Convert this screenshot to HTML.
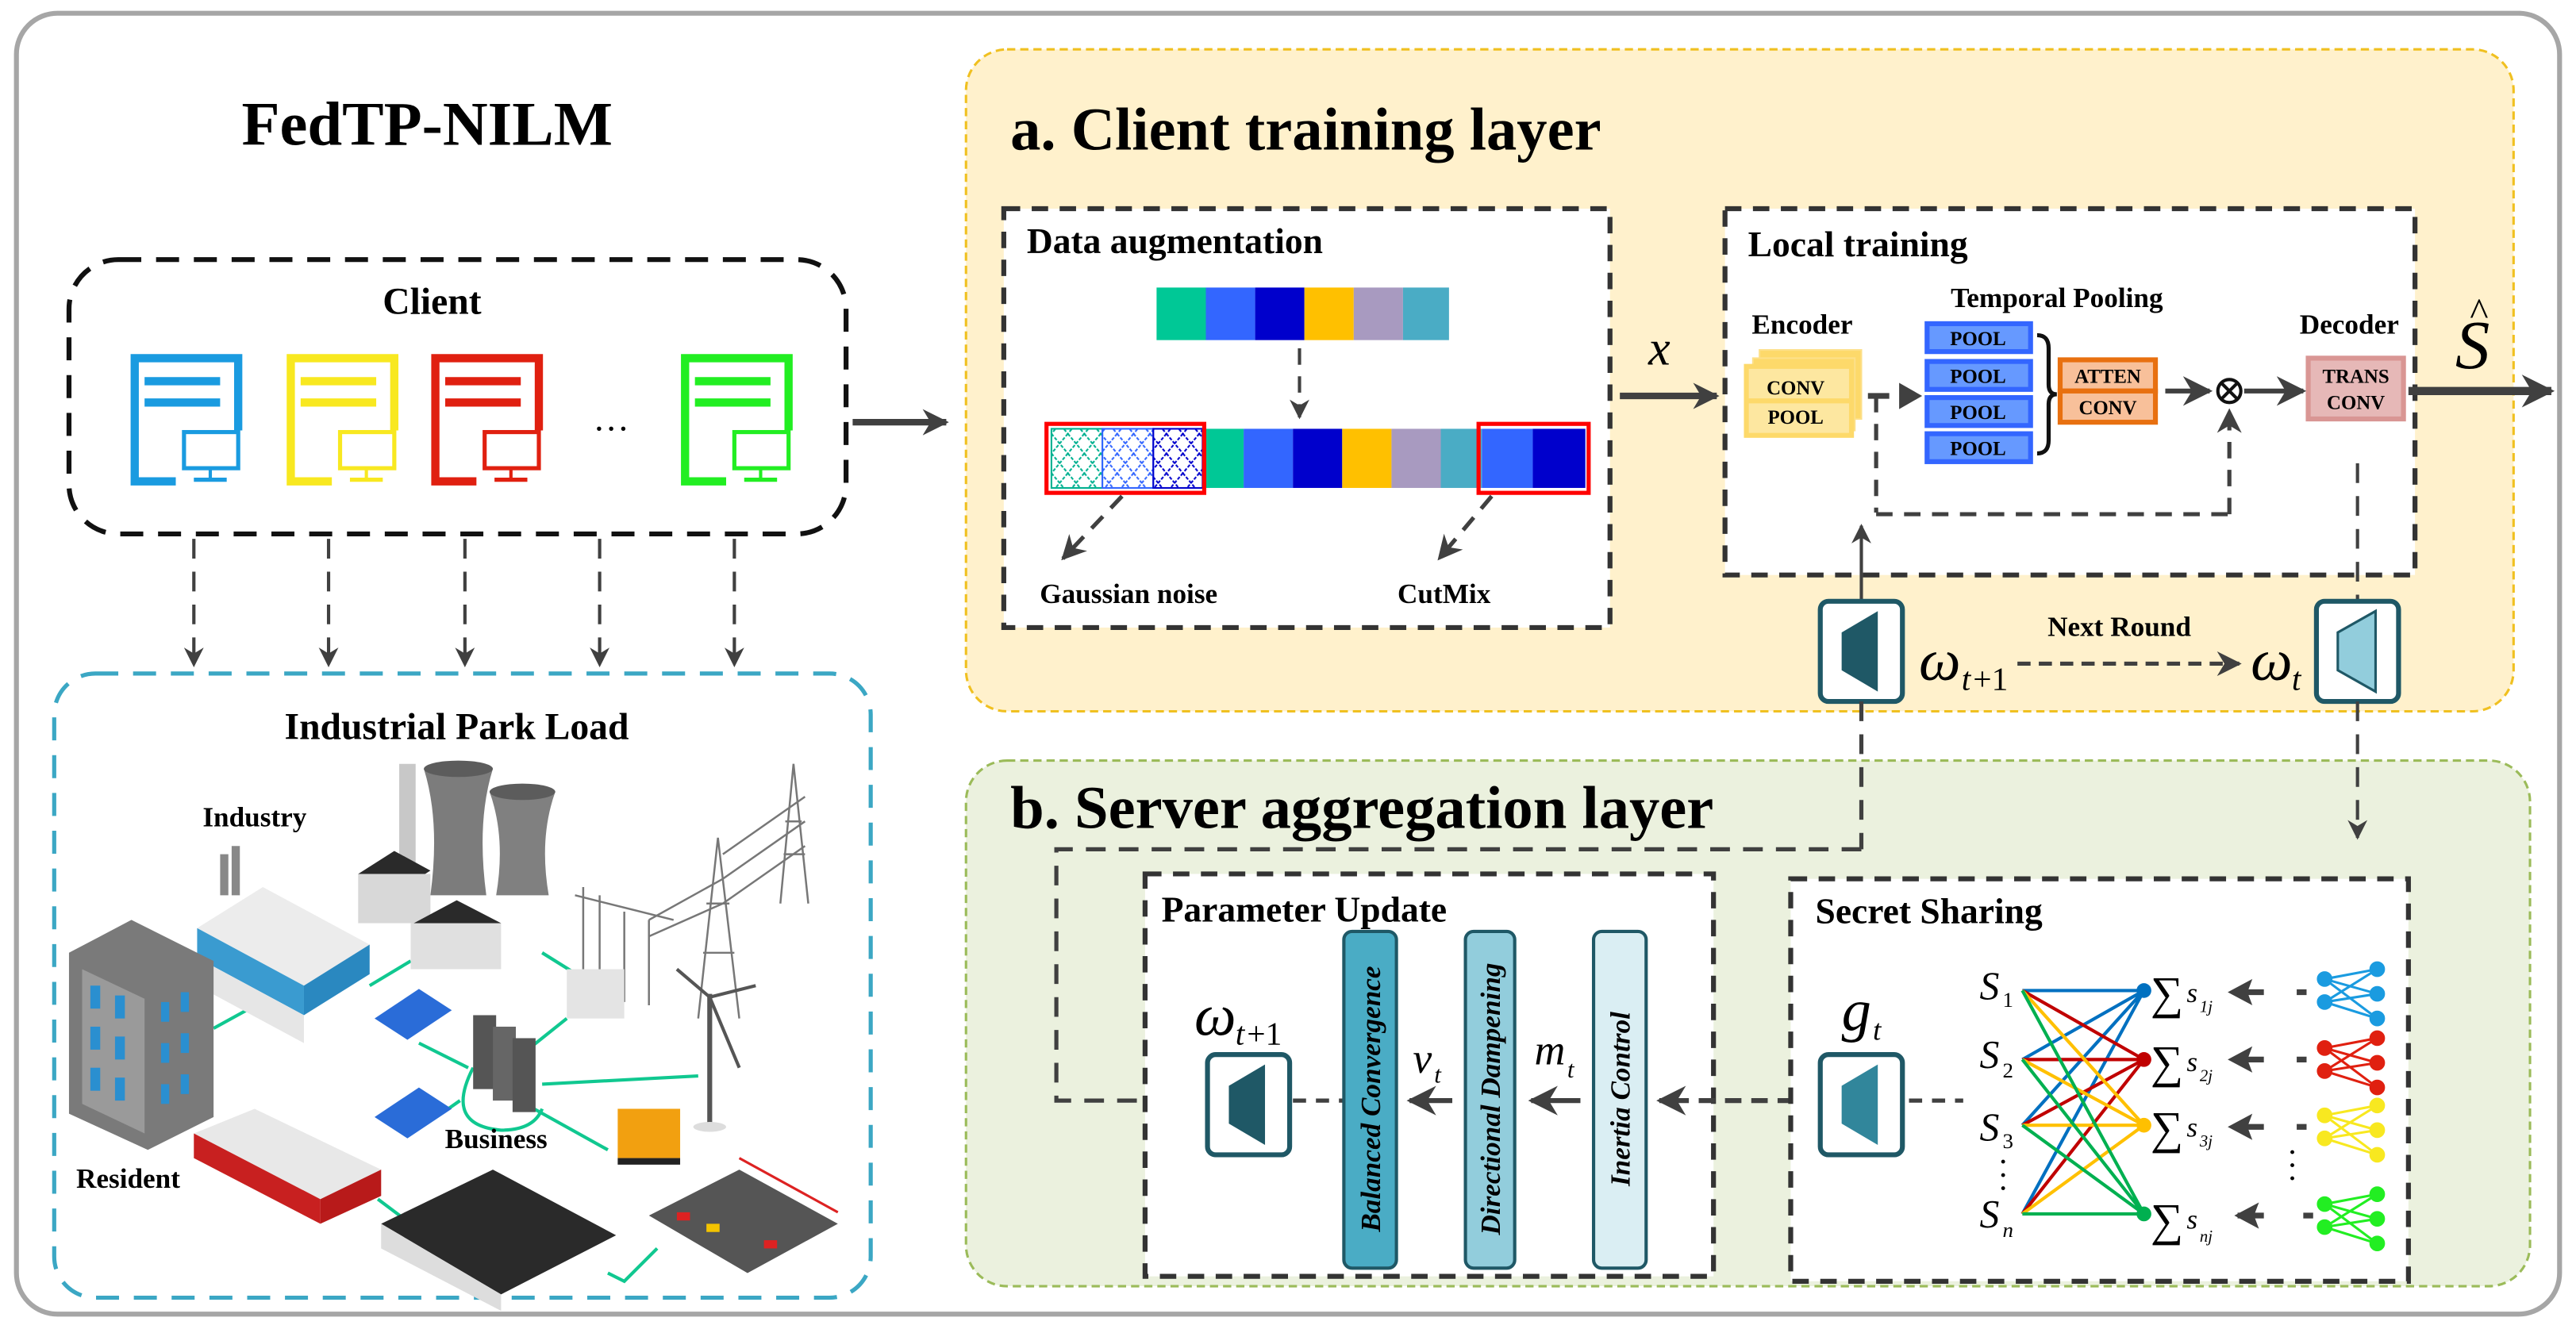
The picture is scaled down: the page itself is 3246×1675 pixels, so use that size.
<!DOCTYPE html>
<html><head><meta charset="utf-8"><style>
html,body{margin:0;padding:0;background:#fff}
svg{display:block}
text{font-family:"Liberation Serif",serif}
.b{font-weight:bold}
.i{font-style:italic}
</style></head><body>
<svg width="3246" height="1675" viewBox="0 0 1568 809" xmlns="http://www.w3.org/2000/svg">
<defs>
<marker id="ah" viewBox="0 0 10 10" refX="9" refY="5" markerWidth="4" markerHeight="4" orient="auto-start-reverse" markerUnits="strokeWidth"><path d="M0,0 L10,5 L0,10 L3,5 z" fill="#404040"/></marker>
<marker id="ahs" viewBox="0 0 10 10" refX="9" refY="5" markerWidth="6" markerHeight="6" orient="auto" markerUnits="strokeWidth"><path d="M0,0 L10,5 L0,10 L3,5 z" fill="#404040"/></marker>
<pattern id="hatchG" width="10" height="12" patternUnits="userSpaceOnUse"><path d="M0,0 L10,12 M10,0 L0,12" stroke="#00b090" stroke-width="1" stroke-dasharray="2,1"/></pattern>
<pattern id="hatchB" width="10" height="12" patternUnits="userSpaceOnUse"><path d="M0,0 L10,12 M10,0 L0,12" stroke="#3366ff" stroke-width="1" stroke-dasharray="2,1"/></pattern>
<pattern id="hatchN" width="10" height="12" patternUnits="userSpaceOnUse"><path d="M0,0 L10,12 M10,0 L0,12" stroke="#0000cc" stroke-width="1" stroke-dasharray="2,1"/></pattern>
</defs>

<rect x="10" y="8" width="1548" height="792" rx="25" fill="#fff" stroke="#a6a6a6" stroke-width="3"/>

<text x="260" y="88" class="b" font-size="38" text-anchor="middle">FedTP-NILM</text>

<!-- Client -->
<rect x="42" y="158" width="473" height="167" rx="30" fill="none" stroke="#111" stroke-width="3" stroke-dasharray="14,9"/>
<text x="263" y="191" class="b" font-size="23" text-anchor="middle">Client</text>
<g fill="none" stroke-width="5">
 <g stroke="#1a9be0"><path d="M107,293 H82 V218 H145 V262"/><line x1="88" y1="232" x2="134" y2="232"/><line x1="88" y1="245" x2="134" y2="245"/><rect x="112" y="263" width="33" height="22" stroke-width="2.5"/><line x1="128" y1="285" x2="128" y2="291" stroke-width="2"/><line x1="118" y1="292" x2="138" y2="292" stroke-width="2.5"/></g>
 <g stroke="#f8e820"><path d="M202,293 H177 V218 H240 V262"/><line x1="183" y1="232" x2="229" y2="232"/><line x1="183" y1="245" x2="229" y2="245"/><rect x="207" y="263" width="33" height="22" stroke-width="2.5"/><line x1="223" y1="285" x2="223" y2="291" stroke-width="2"/><line x1="213" y1="292" x2="233" y2="292" stroke-width="2.5"/></g>
 <g stroke="#e02010"><path d="M290,293 H265 V218 H328 V262"/><line x1="271" y1="232" x2="317" y2="232"/><line x1="271" y1="245" x2="317" y2="245"/><rect x="295" y="263" width="33" height="22" stroke-width="2.5"/><line x1="311" y1="285" x2="311" y2="291" stroke-width="2"/><line x1="301" y1="292" x2="321" y2="292" stroke-width="2.5"/></g>
 <g stroke="#22ee22"><path d="M442,293 H417 V218 H480 V262"/><line x1="423" y1="232" x2="469" y2="232"/><line x1="423" y1="245" x2="469" y2="245"/><rect x="447" y="263" width="33" height="22" stroke-width="2.5"/><line x1="463" y1="285" x2="463" y2="291" stroke-width="2"/><line x1="453" y1="292" x2="473" y2="292" stroke-width="2.5"/></g>
</g>
<text x="372" y="262" font-size="22" text-anchor="middle">…</text>
<line x1="519" y1="257" x2="576" y2="257" stroke="#404040" stroke-width="4" marker-end="url(#ah)"/>
<g stroke="#404040" stroke-width="2" stroke-dasharray="12,8" fill="none">
 <line x1="118" y1="328" x2="118" y2="405" marker-end="url(#ahs)"/>
 <line x1="200" y1="328" x2="200" y2="405" marker-end="url(#ahs)"/>
 <line x1="283" y1="328" x2="283" y2="405" marker-end="url(#ahs)"/>
 <line x1="365" y1="328" x2="365" y2="405" marker-end="url(#ahs)"/>
 <line x1="447" y1="328" x2="447" y2="405" marker-end="url(#ahs)"/>
</g>

<!-- Industrial park -->
<rect x="33" y="410" width="497" height="380" rx="25" fill="#fff" stroke="#3ba7c4" stroke-width="2.5" stroke-dasharray="14,9"/>
<text x="278" y="450" class="b" font-size="23" text-anchor="middle">Industrial Park Load</text>
<g>
 <g stroke="#10c890" stroke-width="2" fill="none">
  <path d="M225,600 L250,585"/><path d="M330,580 L370,605"/><path d="M130,626 L150,615"/><path d="M255,635 L285,650"/><path d="M320,640 L345,620"/>
  <path d="M288,650 Q270,685 305,688 Q325,688 330,675"/><path d="M330,660 L425,655"/><path d="M325,675 L370,700"/>
  <path d="M95,665 L115,675"/><path d="M230,730 L250,745"/><path d="M370,775 L380,780 L400,760"/><path d="M280,670 L270,677"/>
 </g>
 <rect x="243" y="465" width="10" height="70" fill="#c8c8c8"/>
 <path d="M258,468 Q268,500 262,545 H296 Q290,500 300,468 Z" fill="#7c7c7c"/>
 <ellipse cx="279" cy="468" rx="21" ry="5" fill="#5c5c5c"/>
 <path d="M298,482 Q308,510 302,545 H334 Q328,510 338,482 Z" fill="#808080"/>
 <ellipse cx="318" cy="482" rx="20" ry="5" fill="#5c5c5c"/>
 <path d="M218,532 L240,518 L262,530 L240,544 Z" fill="#2a2a2a"/><rect x="218" y="532" width="44" height="30" fill="#d8d8d8"/>
 <path d="M250,563 L278,548 L305,562 L278,578 Z" fill="#2a2a2a"/><rect x="250" y="562" width="55" height="28" fill="#e0e0e0"/>
 <rect x="134" y="520" width="5" height="25" fill="#888"/><rect x="141" y="515" width="5" height="30" fill="#888"/>
 <path d="M120,565 L160,540 L225,575 L185,600 Z" fill="#ececec"/>
 <path d="M120,565 L185,600 L185,618 L120,583 Z" fill="#3a9bd0"/>
 <path d="M185,600 L225,575 L225,593 L185,618 Z" fill="#2a88c0"/>
 <path d="M120,583 L185,618 L185,635 L120,600 Z" fill="#e6e6e6"/>
 <path d="M42,580 L80,560 L130,585 L130,680 L90,700 L42,678 Z" fill="#7a7a7a"/>
 <path d="M50,590 L88,608 L88,690 L50,672 Z" fill="#9a9a9a"/>
 <g fill="#2a8fd0"><rect x="55" y="600" width="6" height="14"/><rect x="70" y="606" width="6" height="14"/><rect x="55" y="625" width="6" height="14"/><rect x="70" y="631" width="6" height="14"/><rect x="55" y="650" width="6" height="14"/><rect x="70" y="656" width="6" height="14"/><rect x="98" y="610" width="5" height="12"/><rect x="110" y="604" width="5" height="12"/><rect x="98" y="635" width="5" height="12"/><rect x="110" y="629" width="5" height="12"/><rect x="98" y="660" width="5" height="12"/><rect x="110" y="654" width="5" height="12"/></g>
 <g stroke="#777" stroke-width="1.2" fill="none">
  <path d="M483,465 L475,550 M483,465 L492,550 M477,520 L490,520 M478,500 L488,500"/>
  <path d="M437,510 L425,620 M437,510 L450,620 M428,580 L447,580 M430,550 L444,550"/>
  <path d="M355,540 L355,600 M365,545 L365,605 M380,555 L380,610 M395,560 L395,612 M350,545 L410,560"/>
  <path d="M440,520 L490,485 M440,535 L490,500 M440,550 L490,515 M395,560 L440,535 M395,570 L440,550"/>
 </g>
 <rect x="345" y="590" width="35" height="30" fill="#e4e4e4"/>
 <line x1="432" y1="605" x2="432" y2="685" stroke="#555" stroke-width="3"/>
 <path d="M432,607 L412,590 M432,607 L460,600 M432,607 L450,650" stroke="#555" stroke-width="2"/>
 <ellipse cx="432" cy="686" rx="10" ry="3" fill="#ddd"/>
 <path d="M228,620 L255,602 L275,615 L248,633 Z" fill="#2a6cd8"/>
 <path d="M228,680 L255,662 L275,675 L248,693 Z" fill="#2a6cd8"/>
 <rect x="288" y="618" width="14" height="45" fill="#555"/><rect x="300" y="625" width="14" height="45" fill="#666"/><rect x="312" y="632" width="14" height="45" fill="#555"/>
 <rect x="376" y="675" width="38" height="30" fill="#f2a010"/><rect x="376" y="705" width="38" height="4" fill="#222"/>
 <path d="M118,690 L155,675 L232,712 L195,730 Z" fill="#e8e8e8"/>
 <path d="M118,690 L195,730 L195,745 L118,705 Z" fill="#c82020"/>
 <path d="M195,730 L232,712 L232,728 L195,745 Z" fill="#b81a1a"/>
 <path d="M232,745 L300,712 L375,752 L305,788 Z" fill="#2a2a2a"/>
 <path d="M232,745 L305,788 L305,798 L232,760 Z" fill="#ddd"/>
 <path d="M395,740 L450,712 L510,745 L455,775 Z" fill="#555"/>
 <rect x="412" y="738" width="8" height="5" fill="#d22"/><rect x="430" y="745" width="8" height="5" fill="#f4c400"/><rect x="465" y="755" width="8" height="5" fill="#d22"/>
 <path d="M450,705 L510,738" stroke="#d22" stroke-width="1.5"/>
</g>
<text x="155" y="503" class="b" font-size="17" text-anchor="middle">Industry</text>
<text x="302" y="699" class="b" font-size="17" text-anchor="middle">Business</text>
<text x="78" y="723" class="b" font-size="17" text-anchor="middle">Resident</text>

<!-- Panel a -->
<rect x="588" y="30" width="942" height="403" rx="25" fill="#fff1cc" stroke="#f0c020" stroke-width="1.5" stroke-dasharray="5,3"/>
<text x="615" y="91" class="b" font-size="37">a. Client training layer</text>

<rect x="611" y="127" width="369" height="255" fill="#fff" stroke="#333" stroke-width="3" stroke-dasharray="10,7"/>
<text x="625" y="154" class="b" font-size="22">Data augmentation</text>
<g>
 <rect x="704" y="175" width="30" height="32" fill="#00c896"/><rect x="734" y="175" width="30" height="32" fill="#3366ff"/><rect x="764" y="175" width="30" height="32" fill="#0000cc"/><rect x="794" y="175" width="30" height="32" fill="#ffc000"/><rect x="824" y="175" width="30" height="32" fill="#a89ac0"/><rect x="854" y="175" width="28" height="32" fill="#4aacc5"/>
</g>
<line x1="791" y1="212" x2="791" y2="254" stroke="#404040" stroke-width="2" stroke-dasharray="10,7" marker-end="url(#ahs)"/>
<g>
 <rect x="640" y="261" width="31" height="36" fill="url(#hatchG)" stroke="#00b090" stroke-width="1"/>
 <rect x="671" y="261" width="31" height="36" fill="url(#hatchB)" stroke="#3366ff" stroke-width="1"/>
 <rect x="702" y="261" width="30" height="36" fill="url(#hatchN)" stroke="#0000cc" stroke-width="1"/>
 <rect x="732" y="261" width="25" height="36" fill="#00c896"/><rect x="757" y="261" width="30" height="36" fill="#3366ff"/><rect x="787" y="261" width="30" height="36" fill="#0000cc"/><rect x="817" y="261" width="30" height="36" fill="#ffc000"/><rect x="847" y="261" width="30" height="36" fill="#a89ac0"/><rect x="877" y="261" width="25" height="36" fill="#4aacc5"/><rect x="902" y="261" width="31" height="36" fill="#3366ff"/><rect x="933" y="261" width="32" height="36" fill="#0000cc"/>
 <rect x="637" y="258" width="96" height="42" fill="none" stroke="#ff0000" stroke-width="2.5"/>
 <rect x="900" y="258" width="67" height="42" fill="none" stroke="#ff0000" stroke-width="2.5"/>
</g>
<line x1="683" y1="302" x2="647" y2="340" stroke="#404040" stroke-width="2.5" stroke-dasharray="10,7" marker-end="url(#ahs)"/>
<line x1="908" y1="302" x2="876" y2="340" stroke="#404040" stroke-width="2.5" stroke-dasharray="10,7" marker-end="url(#ahs)"/>
<text x="687" y="367" class="b" font-size="17" text-anchor="middle">Gaussian noise</text>
<text x="879" y="367" class="b" font-size="17" text-anchor="middle">CutMix</text>

<text x="1010" y="222" class="i" font-size="30" text-anchor="middle">x</text>
<line x1="986" y1="241" x2="1045" y2="241" stroke="#404040" stroke-width="4" marker-end="url(#ah)"/>

<rect x="1050" y="127" width="420" height="223" fill="#fff" stroke="#333" stroke-width="3" stroke-dasharray="10,7"/>
<text x="1064" y="156" class="b" font-size="22">Local training</text>
<text x="1097" y="203" class="b" font-size="17" text-anchor="middle">Encoder</text>
<text x="1252" y="187" class="b" font-size="17" text-anchor="middle">Temporal Pooling</text>
<text x="1430" y="203" class="b" font-size="17" text-anchor="middle">Decoder</text>
<g>
 <rect x="1071" y="213" width="62" height="42" fill="#fdd96a" stroke="#fde08a"/>
 <rect x="1067" y="218" width="62" height="44" fill="#fdd96a" stroke="#fde08a"/>
 <rect x="1063" y="223" width="64" height="42" fill="#fde7a0" stroke="#fdd96a" stroke-width="3"/>
 <line x1="1063" y1="244" x2="1127" y2="244" stroke="#fdd96a" stroke-width="3"/>
 <text x="1093" y="240" class="b" font-size="12" text-anchor="middle">CONV</text>
 <text x="1093" y="258" class="b" font-size="12" text-anchor="middle">POOL</text>
</g>
<g fill="#6699ff" stroke="#3366ff" stroke-width="3">
 <rect x="1173" y="197" width="63" height="17"/><rect x="1173" y="220" width="63" height="17"/><rect x="1173" y="242" width="63" height="17"/><rect x="1173" y="264" width="63" height="17"/>
</g>
<g class="b" font-size="12" text-anchor="middle"><text x="1204" y="210">POOL</text><text x="1204" y="233">POOL</text><text x="1204" y="255">POOL</text><text x="1204" y="277">POOL</text></g>
<path d="M1240,204 Q1247,204 1247,212 L1247,234 Q1247,240 1252,240 Q1247,240 1247,246 L1247,268 Q1247,276 1240,276" fill="none" stroke="#111" stroke-width="2.5"/>
<rect x="1254" y="219" width="58" height="19" fill="#f8c09a" stroke="#e87010" stroke-width="3"/>
<rect x="1254" y="238" width="58" height="19" fill="#f8c09a" stroke="#e87010" stroke-width="3"/>
<text x="1283" y="233" class="b" font-size="12" text-anchor="middle">ATTEN</text>
<text x="1283" y="252" class="b" font-size="12" text-anchor="middle">CONV</text>
<rect x="1405" y="218" width="58" height="37" fill="#e6b8b7" stroke="#d99694" stroke-width="3"/>
<text x="1434" y="233" class="b" font-size="12" text-anchor="middle">TRANS</text>
<text x="1434" y="249" class="b" font-size="12" text-anchor="middle">CONV</text>
<path d="M1137,241 H1150" stroke="#404040" stroke-width="3.5"/><path d="M1156,233 L1170,241 L1156,249 Z" fill="#404040"/>
<line x1="1142" y1="241" x2="1142" y2="312" stroke="#404040" stroke-width="2.5" stroke-dasharray="10,7"/>
<line x1="1142" y1="313" x2="1357" y2="313" stroke="#404040" stroke-width="2.5" stroke-dasharray="10,7"/>
<line x1="1357" y1="313" x2="1357" y2="250" stroke="#404040" stroke-width="2.5" stroke-dasharray="10,7" marker-end="url(#ahs)"/>
<line x1="1318" y1="238" x2="1345" y2="238" stroke="#404040" stroke-width="3" marker-end="url(#ahs)"/>
<circle cx="1357" cy="238" r="7" fill="#fff" stroke="#111" stroke-width="2"/>
<path d="M1352,233 L1362,243 M1362,233 L1352,243" stroke="#111" stroke-width="2"/>
<line x1="1366" y1="238" x2="1402" y2="238" stroke="#404040" stroke-width="3" marker-end="url(#ahs)"/>
<text x="1505" y="224" class="i" font-size="42" text-anchor="middle">S</text>
<text x="1509" y="198" font-size="24" text-anchor="middle">^</text>
<line x1="1466" y1="238" x2="1553" y2="238" stroke="#404040" stroke-width="5" marker-end="url(#ah)"/>
<line x1="1133" y1="366" x2="1133" y2="320" stroke="#404040" stroke-width="2" marker-end="url(#ahs)"/>
<line x1="1435" y1="282" x2="1435" y2="366" stroke="#404040" stroke-width="2" stroke-dasharray="12,8"/>

<g>
 <rect x="1108" y="366" width="50" height="61" rx="5" fill="#fff" stroke="#1f5866" stroke-width="3"/>
 <path d="M1121,385 L1143,372 L1143,421 L1121,408 Z" fill="#1f5866"/>
 <rect x="1410" y="366" width="50" height="61" rx="5" fill="#fff" stroke="#1f5866" stroke-width="3"/>
 <path d="M1423,385 L1446,372 L1446,421 L1423,408 Z" fill="#92cddc" stroke="#1f5866" stroke-width="1.5"/>
</g>
<text x="1168" y="414" class="i" font-size="36">ω</text><text x="1194" y="420" class="i" font-size="20">t</text><text x="1201" y="420" font-size="20">+1</text>
<text x="1290" y="387" class="b" font-size="17" text-anchor="middle">Next Round</text>
<line x1="1228" y1="404" x2="1363" y2="404" stroke="#404040" stroke-width="2.5" stroke-dasharray="8,5" marker-end="url(#ahs)"/>
<text x="1370" y="414" class="i" font-size="36">ω</text><text x="1395" y="420" class="i" font-size="20">t</text>

<!-- Panel b -->
<rect x="588" y="463" width="952" height="320" rx="25" fill="#ebf1de" stroke="#9bbb59" stroke-width="1.5" stroke-dasharray="5,3"/>
<text x="615" y="504" class="b" font-size="37">b. Server aggregation layer</text>
<line x1="1133" y1="427" x2="1133" y2="517" stroke="#404040" stroke-width="2.5" stroke-dasharray="12,8"/>
<path d="M1133,517 H643 V670 H735" fill="none" stroke="#404040" stroke-width="2.5" stroke-dasharray="12,8"/>
<line x1="1435" y1="427" x2="1435" y2="510" stroke="#404040" stroke-width="2" stroke-dasharray="12,8" marker-end="url(#ahs)"/>

<rect x="697" y="532" width="346" height="245" fill="#fff" stroke="#333" stroke-width="3" stroke-dasharray="10,7"/>
<text x="707" y="561" class="b" font-size="22">Parameter Update</text>
<text x="727" y="630" class="i" font-size="36">ω</text><text x="752" y="636" class="i" font-size="20">t</text><text x="759" y="636" font-size="20">+1</text>
<rect x="735" y="642" width="50" height="61" rx="5" fill="#fff" stroke="#1f5866" stroke-width="3"/>
<path d="M748,661 L770,648 L770,697 L748,684 Z" fill="#1f5866"/>
<line x1="787" y1="670" x2="818" y2="670" stroke="#404040" stroke-width="2.5" stroke-dasharray="8,6"/>
<rect x="818" y="567" width="32" height="205" rx="5" fill="#4aacc5" stroke="#1f5866" stroke-width="2"/>
<rect x="892" y="567" width="30" height="205" rx="5" fill="#92cddc" stroke="#1f5866" stroke-width="2"/>
<rect x="970" y="567" width="32" height="205" rx="5" fill="#daeef3" stroke="#1f5866" stroke-width="2"/>
<text transform="translate(840,669) rotate(-90)" class="b i" font-size="17" text-anchor="middle">Balanced Convergence</text>
<text transform="translate(913,669) rotate(-90)" class="b i" font-size="17" text-anchor="middle">Directional Dampening</text>
<text transform="translate(992,669) rotate(-90)" class="b i" font-size="17" text-anchor="middle">Inertia Control</text>
<text x="860" y="653" class="i" font-size="26">v</text><text x="873" y="659" class="i" font-size="15">t</text>
<text x="934" y="648" class="i" font-size="26">m</text><text x="954" y="656" class="i" font-size="15">t</text>
<line x1="884" y1="670" x2="858" y2="670" stroke="#404040" stroke-width="3" marker-end="url(#ahs)"/>
<line x1="962" y1="670" x2="932" y2="670" stroke="#404040" stroke-width="3" marker-end="url(#ahs)"/>
<line x1="1108" y1="670" x2="1010" y2="670" stroke="#404040" stroke-width="3" stroke-dasharray="10,6" marker-end="url(#ahs)"/>

<rect x="1090" y="535" width="376" height="245" fill="#fff" stroke="#333" stroke-width="3" stroke-dasharray="10,7"/>
<text x="1105" y="562" class="b" font-size="22">Secret Sharing</text>
<text x="1121" y="627" class="i" font-size="36">g</text><text x="1140" y="633" class="i" font-size="18">t</text>
<rect x="1108" y="642" width="50" height="61" rx="5" fill="#fff" stroke="#1f5866" stroke-width="3"/>
<path d="M1121,661 L1143,648 L1143,697 L1121,684 Z" fill="#31869b"/>
<line x1="1162" y1="670" x2="1195" y2="670" stroke="#404040" stroke-width="2.5" stroke-dasharray="8,6"/>
<g class="i" font-size="24"><text x="1205" y="608">S</text><text x="1205" y="650">S</text><text x="1205" y="694">S</text><text x="1205" y="747">S</text></g>
<g font-size="13"><text x="1219" y="613">1</text><text x="1219" y="656">2</text><text x="1219" y="699">3</text><text x="1219" y="753" class="i">n</text></g>
<g font-size="20"><text x="1216" y="714">·</text><text x="1216" y="722">·</text><text x="1216" y="730">·</text><text x="1392" y="708">·</text><text x="1392" y="716">·</text><text x="1392" y="724">·</text></g>
<g stroke-width="2" fill="none">
 <g stroke="#0070c0"><path d="M1231,603 L1305,603 M1231,645 L1305,603 M1231,685 L1305,603 M1231,739 L1305,603"/></g>
 <g stroke="#c00000"><path d="M1231,603 L1305,645 M1231,645 L1305,645 M1231,685 L1305,645 M1231,739 L1305,645"/></g>
 <g stroke="#ffc000"><path d="M1231,603 L1305,685 M1231,645 L1305,685 M1231,685 L1305,685 M1231,739 L1305,685"/></g>
 <g stroke="#00b050"><path d="M1231,603 L1305,739 M1231,645 L1305,739 M1231,685 L1305,739 M1231,739 L1305,739"/></g>
</g>
<circle cx="1305" cy="603" r="4.5" fill="#0070c0"/><circle cx="1305" cy="645" r="4.5" fill="#c00000"/><circle cx="1305" cy="685" r="4.5" fill="#ffc000"/><circle cx="1305" cy="739" r="4.5" fill="#00b050"/>
<g font-size="28"><text x="1309" y="614">∑</text><text x="1309" y="656">∑</text><text x="1309" y="696">∑</text><text x="1309" y="752">∑</text></g>
<g class="i" font-size="17"><text x="1331" y="610">s</text><text x="1331" y="652">s</text><text x="1331" y="692">s</text><text x="1331" y="748">s</text></g>
<g class="i" font-size="10"><text x="1339" y="616">1j</text><text x="1339" y="658">2j</text><text x="1339" y="698">3j</text><text x="1339" y="756">nj</text></g>
<g stroke="#404040" stroke-width="3.5">
 <line x1="1378" y1="604" x2="1362" y2="604"/><line x1="1378" y1="645" x2="1362" y2="645"/><line x1="1378" y1="686" x2="1362" y2="686"/><line x1="1378" y1="740" x2="1362" y2="740"/>
 <line x1="1398" y1="604" x2="1404" y2="604"/><line x1="1398" y1="645" x2="1404" y2="645"/><line x1="1398" y1="686" x2="1404" y2="686"/><line x1="1402" y1="740" x2="1408" y2="740"/>
</g>
<g fill="#404040"><path d="M1356,604 L1371,596 L1368,604 L1371,612 Z"/><path d="M1356,645 L1371,637 L1368,645 L1371,653 Z"/><path d="M1356,686 L1371,678 L1368,686 L1371,694 Z"/><path d="M1360,740 L1375,732 L1372,740 L1375,748 Z"/></g>
<g stroke-width="1.5">
 <g stroke="#1a9be0" fill="#1a9be0"><path d="M1415,596 L1447,590 M1415,596 L1447,605 M1415,596 L1447,620 M1415,610 L1447,590 M1415,610 L1447,605 M1415,610 L1447,620"/><circle cx="1415" cy="596" r="4"/><circle cx="1415" cy="610" r="4"/><circle cx="1447" cy="590" r="4"/><circle cx="1447" cy="605" r="4"/><circle cx="1447" cy="620" r="4"/></g>
 <g stroke="#e02010" fill="#e02010"><path d="M1415,638 L1447,632 M1415,638 L1447,647 M1415,638 L1447,662 M1415,652 L1447,632 M1415,652 L1447,647 M1415,652 L1447,662"/><circle cx="1415" cy="638" r="4"/><circle cx="1415" cy="652" r="4"/><circle cx="1447" cy="632" r="4"/><circle cx="1447" cy="647" r="4"/><circle cx="1447" cy="662" r="4"/></g>
 <g stroke="#f8e820" fill="#f8e820"><path d="M1415,679 L1447,673 M1415,679 L1447,688 M1415,679 L1447,703 M1415,693 L1447,673 M1415,693 L1447,688 M1415,693 L1447,703"/><circle cx="1415" cy="679" r="4"/><circle cx="1415" cy="693" r="4"/><circle cx="1447" cy="673" r="4"/><circle cx="1447" cy="688" r="4"/><circle cx="1447" cy="703" r="4"/></g>
 <g stroke="#22ee22" fill="#22ee22"><path d="M1415,733 L1447,727 M1415,733 L1447,742 M1415,733 L1447,757 M1415,747 L1447,727 M1415,747 L1447,742 M1415,747 L1447,757"/><circle cx="1415" cy="733" r="4"/><circle cx="1415" cy="747" r="4"/><circle cx="1447" cy="727" r="4"/><circle cx="1447" cy="742" r="4"/><circle cx="1447" cy="757" r="4"/></g>
</g>
</svg>
</body></html>
